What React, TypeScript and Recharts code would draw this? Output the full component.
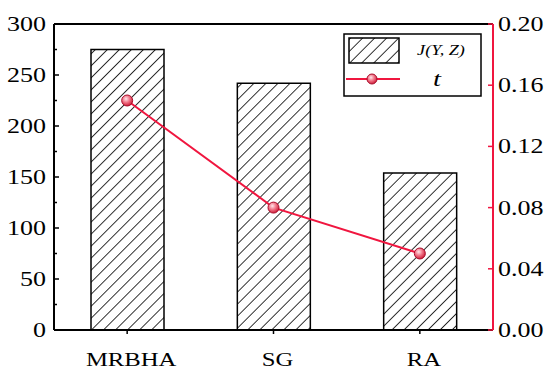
import {
  Bar,
  ComposedChart,
  Legend,
  Line,
  ReferenceLine,
  XAxis,
  YAxis
} from "recharts";

const methods = ["MRBHA", "SG", "RA"];
const jValues = [275, 242, 154];
const tValues = [0.15, 0.08, 0.05];
const leftTicks = [0, 25, 50, 75, 100, 125, 150, 175, 200, 225, 250, 275, 300];
const rightTicks = [0, 0.04, 0.08, 0.12, 0.16, 0.2];

const data = methods.map((name, i) => ({ name, j: jValues[i], t: tValues[i] }));

const RED = "#f0163f";
const FONT = "'Times New Roman', 'Liberation Serif', 'DejaVu Serif', serif";
// the original figure is stretched sideways, so the glyphs are widened
const STRETCH = 1.3;

const Wide = ({ x, y, dy, anchor, size, italic, children }: any) => (
  <text
    transform={`translate(${x},${y}) scale(${STRETCH},1)`}
    dy={dy}
    textAnchor={anchor}
    fontFamily={FONT}
    fontStyle={italic ? "italic" : "normal"}
    fontSize={size}
    fill="#000"
  >
    {children}
  </text>
);

const LeftTick = (props: any) => {
  const { x, y, payload } = props;
  const major = payload.value % 50 === 0;
  // axis sits tickMargin px to the right of x; ticks point into the plot
  const ax = x + 8;
  return (
    <g>
      <line x1={ax} x2={ax + (major ? 5 : 3)} y1={y} y2={y} stroke="#000" strokeWidth={1.5} />
      {major && (
        <Wide x={x} y={y} dy="0.35em" anchor="end" size={20}>
          {payload.value}
        </Wide>
      )}
    </g>
  );
};

const XTick = (props: any) => {
  const { x, y, payload } = props;
  return (
    <Wide x={x + 4} y={y} dy="0.71em" anchor="middle" size={19}>
      {payload.value}
    </Wide>
  );
};

const RightTick = (props: any) => {
  const { x, y, payload } = props;
  return (
    <Wide x={x} y={y} dy="0.35em" anchor="start" size={20}>
      {payload.value.toFixed(2)}
    </Wide>
  );
};

const Ball = (props: any) => {
  const { cx, cy } = props;
  if (cx == null || cy == null) return null;
  return <circle cx={cx} cy={cy} r={5.5} fill="url(#ball)" stroke="#a80d2a" strokeWidth={1} />;
};

const LegendBox = () => (
  <svg width={139} height={64} style={{ display: "block" }}>
    <rect x={1} y={1} width={137} height={62} fill="#fff" stroke="#000" strokeWidth={1.5} />
    <rect x={6} y={5} width={50} height={25} fill="url(#hatch)" stroke="#000" strokeWidth={1.5} />
    <Wide x={98} y={22} anchor="middle" size={14} italic>
      J(Y, Z)
    </Wide>
    <line x1={3} x2={57} y1={46} y2={46} stroke={RED} strokeWidth={2} />
    <circle cx={29} cy={46} r={5} fill="url(#ball)" stroke="#a80d2a" strokeWidth={1} />
    <Wide x={94} y={53} anchor="middle" size={22} italic>
      t
    </Wide>
  </svg>
);

export default function App() {
  return (
    <div
      style={{
        position: "absolute",
        left: 0,
        top: 0,
        width: 550,
        height: 374,
        background: "#fff",
        fontFamily: FONT
      }}
    >
      <svg width={0} height={0} style={{ position: "absolute" }}>
        <defs>
          <pattern id="hatch" patternUnits="userSpaceOnUse" width={8.5} height={8.5} patternTransform="rotate(45)">
            <line x1={0} y1={0} x2={0} y2={8.5} stroke="#000" strokeWidth={1.6} />
          </pattern>
          <radialGradient id="ball" cx="0.4" cy="0.35" r="0.7">
            <stop offset="0%" stopColor="#ffe6ea" />
            <stop offset="45%" stopColor="#f27a8c" />
            <stop offset="100%" stopColor="#c8102e" />
          </radialGradient>
        </defs>
      </svg>
      <ComposedChart
        width={550}
        height={374}
        data={data}
        margin={{ top: 24, right: 0, bottom: 0, left: 0 }}
      >
        <XAxis
          dataKey="name"
          height={44}
          axisLine={{ stroke: "#000", strokeWidth: 2 }}
          tickLine={{ stroke: "#000", strokeWidth: 1.5 }}
          tickSize={4}
          tickMargin={19}
          tick={<XTick />}
        />
        <YAxis
          yAxisId="left"
          width={54}
          domain={[0, 300]}
          ticks={leftTicks}
          interval={0}
          axisLine={{ stroke: "#000", strokeWidth: 2 }}
          tickLine={false}
          tickSize={0}
          tickMargin={8}
          tick={<LeftTick />}
        />
        <YAxis
          yAxisId="right"
          orientation="right"
          width={57}
          domain={[0, 0.2]}
          ticks={rightTicks}
          interval={0}
          axisLine={{ stroke: RED, strokeWidth: 2 }}
          tickLine={{ stroke: RED, strokeWidth: 1.5 }}
          tickSize={-5}
          tickMargin={10}
          tick={<RightTick />}
        />
        <ReferenceLine yAxisId="left" y={300} stroke="#000" strokeWidth={2} />
        <Bar
          yAxisId="left"
          dataKey="j"
          barSize={73}
          fill="url(#hatch)"
          stroke="#000"
          strokeWidth={1.5}
          isAnimationActive={false}
        />
        <Line
          yAxisId="right"
          dataKey="t"
          type="linear"
          stroke={RED}
          strokeWidth={2}
          dot={<Ball />}
          activeDot={false}
          isAnimationActive={false}
        />
        <Legend
          layout="horizontal"
          align="center"
          verticalAlign="middle"
          content={<LegendBox />}
          wrapperStyle={{ position: "absolute", left: 343, top: 33, width: 139, height: 64 }}
        />
      </ComposedChart>
    </div>
  );
}
